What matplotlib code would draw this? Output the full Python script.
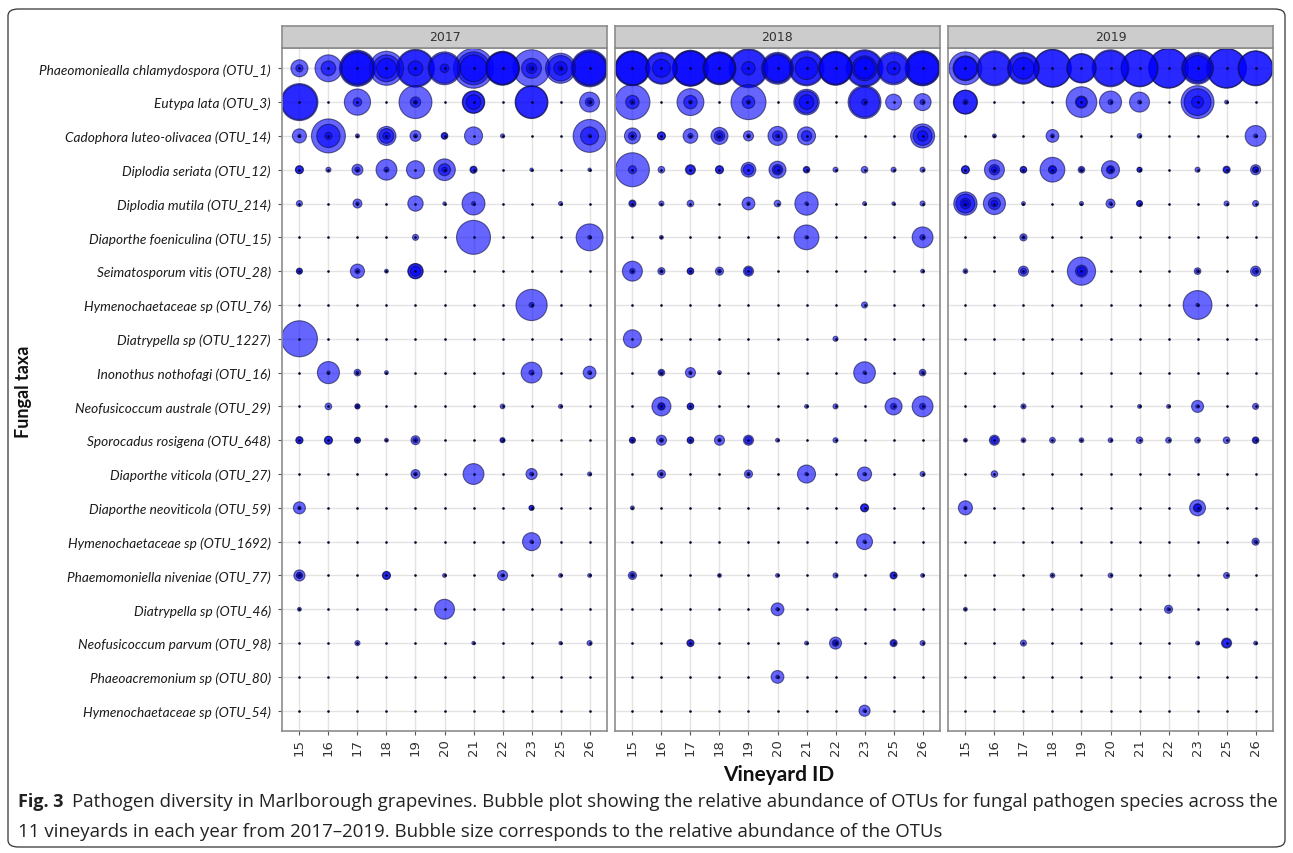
import matplotlib
matplotlib.use("Agg")
import matplotlib.pyplot as plt
from matplotlib.patches import FancyBboxPatch

# ---------------- data ----------------
taxa = [
    "Phaeomoniealla chlamydospora (OTU_1)",
    "Eutypa lata (OTU_3)",
    "Cadophora luteo-olivacea (OTU_14)",
    "Diplodia seriata (OTU_12)",
    "Diplodia mutila (OTU_214)",
    "Diaporthe foeniculina (OTU_15)",
    "Seimatosporum vitis (OTU_28)",
    "Hymenochaetaceae sp (OTU_76)",
    "Diatrypella sp (OTU_1227)",
    "Inonothus nothofagi (OTU_16)",
    "Neofusicoccum australe (OTU_29)",
    "Sporocadus rosigena (OTU_648)",
    "Diaporthe viticola (OTU_27)",
    "Diaporthe neoviticola (OTU_59)",
    "Hymenochaetaceae sp (OTU_1692)",
    "Phaemomoniella niveniae (OTU_77)",
    "Diatrypella sp (OTU_46)",
    "Neofusicoccum parvum (OTU_98)",
    "Phaeoacremonium sp (OTU_80)",
    "Hymenochaetaceae sp (OTU_54)",
]
vineyards = [15, 16, 17, 18, 19, 20, 21, 22, 23, 25, 26]
years = ["2017", "2018", "2019"]

# relative abundance of each replicate sample (per taxon row: {vineyard: [replicates]})
abund_2017 = [
    {15: [8, 1.4], 16: [20, 6], 17: [36, 32, 28], 18: [32, 20, 11], 19: [40, 36, 6], 20: [30, 25, 2],
     21: [44, 30, 20], 22: [32, 30, 28], 23: [38, 11, 3, 0.7], 25: [25, 18, 5, 0.7], 26: [38, 34, 30]},
    {15: [38, 34], 17: [19, 2], 19: [30, 3, 0.5], 21: [14, 13, 6], 23: [30, 28], 26: [11, 2, 0.5]},
    {15: [5.5, 0.3], 16: [32, 15, 1.4], 17: [0.45], 18: [10, 6, 1.4], 19: [3.3, 0.45], 20: [1.2, 1],
     21: [9], 22: [0.45], 26: [30, 9, 0.3]},
    {15: [1.8, 1.5], 16: [0.7], 17: [3.3, 0.7], 18: [12, 0.7], 19: [9], 20: [13, 4, 0.7], 21: [1.4, 1],
     23: [0.3], 26: [0.3]},
    {15: [1], 17: [2.2, 0.3], 19: [6.5], 20: [0.3], 21: [14.5, 0.4], 25: [0.45]},
    {19: [1], 21: [32], 26: [20, 0.4]},
    {15: [1, 0.8], 17: [5.5, 0.7], 18: [0.4], 19: [6.5, 6, 2.8]},
    {23: [27, 0.7]},
    {15: [36]},
    {16: [13.5, 0.3], 17: [1.2, 0.3], 18: [0.4], 23: [12, 0.7], 26: [4.5, 0.4]},
    {16: [1.2], 17: [0.7, 0.6], 22: [0.6], 25: [0.45]},
    {15: [1.4, 1.2], 16: [1.8, 1.5], 17: [1, 0.8], 18: [0.4], 19: [2.2, 0.7], 22: [0.7, 0.5]},
    {19: [2.2, 0.4], 21: [12], 23: [3.4, 0.4], 26: [0.45]},
    {15: [4, 0.3], 23: [0.7, 0.6]},
    {23: [9, 0.3]},
    {15: [3.4, 1, 0.8], 18: [1.8, 1.5], 20: [0.4], 22: [2.8, 0.3], 25: [0.4], 26: [0.4]},
    {15: [0.4], 20: [11]},
    {17: [0.7], 21: [0.3], 25: [0.3], 26: [0.7]},
    {},
    {},
]

abund_2018 = [
    {15: [34, 32, 30], 16: [28, 25, 9], 17: [36, 34, 32], 18: [30, 28, 25], 19: [42, 38, 5], 20: [28, 24, 20],
     21: [34, 30, 14], 22: [32, 30, 28], 23: [38, 34, 17, 12], 25: [30, 25, 5], 26: [34, 32, 28]},
    {15: [34, 5, 0.7], 17: [20, 5, 0.4], 19: [34, 4.5, 0.5], 21: [18, 14, 6], 23: [30, 25, 1], 25: [7],
     26: [8, 0.7]},
    {15: [7, 1.8, 0.3], 16: [1.8, 1.5], 17: [6, 0.7], 18: [8, 3, 1], 19: [2.8, 0.4], 20: [10, 2.8, 0.4],
     21: [9, 3], 26: [16, 10, 3]},
    {15: [32, 1.8], 16: [1.2], 17: [2.8, 2], 18: [1.8, 1.5], 19: [6, 3], 20: [8, 3, 1.5], 21: [1.2, 0.8],
     22: [0.7], 23: [1.2], 25: [0.7], 26: [0.7]},
    {15: [1.4, 0.8], 16: [0.7], 17: [1.2], 19: [4.5, 0.3], 20: [1.2], 21: [15, 0.3], 23: [0.4], 25: [0.3],
     26: [0.7]},
    {16: [0.4], 21: [17, 0.3], 26: [12, 0.8]},
    {15: [11, 0.8], 16: [1.4, 0.3], 17: [1.2, 1], 18: [1.8, 0.4], 19: [2.8, 1.5], 26: [0.4]},
    {23: [1]},
    {15: [9], 22: [0.7]},
    {16: [1.2, 0.5], 17: [2.8, 0.3], 18: [0.4], 23: [13, 0.3], 26: [1.2, 0.3]},
    {16: [10, 1.5, 1], 17: [1.2, 1], 21: [0.4], 22: [0.7], 25: [8, 1], 26: [12, 1]},
    {15: [1, 0.8], 16: [2.8, 0.5], 17: [1.2, 1], 18: [2.8, 0.3], 19: [2.8, 1.5], 20: [0.4], 22: [0.7]},
    {16: [1.8, 0.3], 19: [1.8, 0.3], 21: [9, 0.3], 23: [5.5, 0.3], 26: [0.7]},
    {15: [0.4], 23: [1.8, 1.5]},
    {23: [7, 0.3]},
    {15: [1.8, 0.6], 18: [0.4], 20: [0.4], 22: [0.7], 25: [1.4, 1], 26: [0.4]},
    {20: [4.5, 0.3]},
    {17: [1.4, 1], 21: [0.4], 22: [4, 1.2, 0.5], 25: [1.4, 0.8], 26: [0.7]},
    {20: [4.5, 0.3]},
    {23: [3.4, 0.3]},
]

abund_2019 = [
    {15: [30, 17, 15], 16: [34, 30], 17: [28, 25, 13], 18: [40, 38], 19: [24, 22], 20: [38, 34],
     21: [38, 36], 22: [44, 42], 23: [28, 24, 18], 25: [44, 42], 26: [34, 32]},
    {15: [16, 15, 0.7], 19: [26, 4, 3], 20: [13.5, 0.7], 21: [11, 0.4], 23: [30, 20, 4], 25: [0.4]},
    {16: [0.4], 18: [4.5, 0.4], 21: [0.6], 26: [12, 0.4]},
    {15: [1.8, 1.5], 16: [11, 3, 1], 17: [1.2, 1], 18: [17, 1.8, 1.5], 19: [1.2, 0.5], 20: [9, 1.8, 1],
     21: [0.7, 0.6], 23: [0.7], 25: [1.4, 1], 26: [2.8, 1, 0.8]},
    {15: [15, 10, 3, 1], 16: [13.5, 4, 1.2], 17: [0.4], 19: [0.45], 20: [2.2, 0.3], 21: [1, 0.8], 25: [0.7],
     26: [1]},
    {17: [1.4, 0.3]},
    {15: [0.6], 17: [2.8, 1], 19: [22, 4, 2], 23: [1.2, 0.3], 26: [2.8, 1]},
    {23: [23, 0.3]},
    {},
    {},
    {17: [0.7], 21: [0.4], 22: [0.4], 23: [4, 0.3], 26: [1]},
    {15: [0.4], 16: [2.8, 1.5], 17: [0.6], 18: [0.9], 19: [0.6], 20: [0.6], 21: [1.2], 22: [0.9], 23: [0.9],
     25: [1.2], 26: [1.2, 0.8]},
    {16: [1.2]},
    {15: [5.5, 0.3], 23: [7, 1.8, 1.5]},
    {26: [1.4, 0.3]},
    {18: [0.6], 20: [0.6], 25: [1]},
    {15: [0.4], 22: [1.8, 0.3]},
    {17: [1], 23: [0.4], 25: [2.8, 2], 26: [0.4]},
    {},
    {},
]

caption_bold = "Fig. 3"
caption_line1 = ("Pathogen diversity in Marlborough grapevines. Bubble plot showing the relative abundance "
                 "of OTUs for fungal pathogen species across the")
caption_line2 = ("11 vineyards in each year from 2017\u20132019. Bubble size corresponds to the relative "
                 "abundance of the OTUs")

# ---------------- figure ----------------
W, H = 1293, 854
plt.rcParams['font.family'] = ['Lato', 'DejaVu Sans']
fig = plt.figure(figsize=(W / 100, H / 100), dpi=100)


def frac_rect(x0, y0, x1, y1):
    return [x0 / W, 1 - y1 / H, (x1 - x0) / W, (y1 - y0) / H]


# outer rounded frame
frame = FancyBboxPatch((8 / W, 6 / H), (W - 16) / W, (H - 16) / H,
                       boxstyle="round,pad=0,rounding_size=0.008",
                       transform=fig.transFigure, fill=False, edgecolor="#333333", linewidth=0.9)
fig.patches.append(frame)

panel_x = [(282, 607), (615, 940), (948, 1273)]
panel_top, panel_bottom = 49, 732
strip_top = 27

all_data = [abund_2017, abund_2018, abund_2019]
SCALE = (0.72 * 6.0) ** 2   # points^2 per unit abundance (diameter px = 6*sqrt(a))
DOT = 3.5

nx = len(vineyards)
ny = len(taxa)

for k, (year, data) in enumerate(zip(years, all_data)):
    x0, x1 = panel_x[k]
    ax = fig.add_axes(frac_rect(x0, panel_top, x1, panel_bottom))
    ax.set_xlim(-0.6, nx - 1 + 0.6)
    ax.set_ylim(ny - 1 + 0.6, -0.6)
    ax.set_xticks(range(nx))
    ax.set_yticks(range(ny))
    ax.grid(True, color="#e3e3e3", linewidth=1.0, zorder=0)
    ax.set_axisbelow(True)
    for sp in ax.spines.values():
        sp.set_color("#8c8c8c")
        sp.set_linewidth(1.2)

    xs, ys, vs = [], [], []
    for ti, row in enumerate(data):
        for v, reps in row.items():
            xi = vineyards.index(v)
            for a in reps:
                xs.append(xi)
                ys.append(ti)
                vs.append(a)
    order = sorted(range(len(vs)), key=lambda i: -vs[i])
    ax.scatter([xs[i] for i in order], [ys[i] for i in order],
               s=[vs[i] * SCALE for i in order],
               facecolors=(0.0, 0.0, 1.0, 0.6), edgecolors=(0.05, 0.05, 0.25, 0.6),
               linewidths=0.8, zorder=2)
    # zero-abundance replicates shown as tiny dots in every cell
    gx = [i for j in range(ny) for i in range(nx)]
    gy = [j for j in range(ny) for i in range(nx)]
    ax.scatter(gx, gy, s=DOT, color="#000020", linewidths=0, zorder=3)

    ax.set_xticklabels([str(v) for v in vineyards], rotation=90, fontsize=9.5, color="#333333",
                       family=['DejaVu Sans'])
    ax.tick_params(axis="x", length=3, color="#555555", pad=2)
    if k == 0:
        ax.set_yticklabels(taxa, fontsize=9.8, style="italic", color="#1a1a1a")
        ax.tick_params(axis="y", length=3, color="#555555", pad=5)
    else:
        ax.set_yticklabels([])
        ax.tick_params(axis="y", length=0)

    # strip
    sax = fig.add_axes(frac_rect(x0, strip_top, x1, panel_top))
    sax.set_xticks([])
    sax.set_yticks([])
    sax.set_facecolor("#cccccc")
    for sp in sax.spines.values():
        sp.set_color("#8c8c8c")
        sp.set_linewidth(1.2)
    sax.text(0.5, 0.5, year, ha="center", va="center", fontsize=9, color="#333333",
             transform=sax.transAxes, family=['DejaVu Sans'])

# axis titles
fig.text(779 / W, 1 - 775 / H, "Vineyard ID", ha="center", va="center", fontsize=15,
         fontweight="bold", color="#111111")
fig.text(23 / W, 1 - 392 / H, "Fungal taxa", ha="center", va="center", rotation=90, fontsize=13,
         fontweight="bold", color="#111111")

# caption (fit the first line to the frame width)
cap_family = ['Open Sans', 'DejaVu Sans']
t_bold = fig.text(18 / W, 1 - 807 / H, caption_bold, ha="left", va="baseline", fontsize=13,
                  fontweight="bold", color="#222222", family=cap_family)
fig.canvas.draw()
renderer = fig.canvas.get_renderer()
bb = t_bold.get_window_extent(renderer=renderer)
start_x = bb.x1 + 9
fs = 12
t1 = fig.text(start_x / W, 1 - 807 / H, caption_line1, ha="left", va="baseline", fontsize=fs,
              color="#222222", family=cap_family)
w1 = t1.get_window_extent(renderer=renderer).width
fs = fs * (1276 - start_x) / w1
t1.set_fontsize(fs)
fig.text(18 / W, 1 - 837 / H, caption_line2, ha="left", va="baseline", fontsize=fs,
         color="#222222", family=cap_family)

fig.savefig("out.png", dpi=100)
